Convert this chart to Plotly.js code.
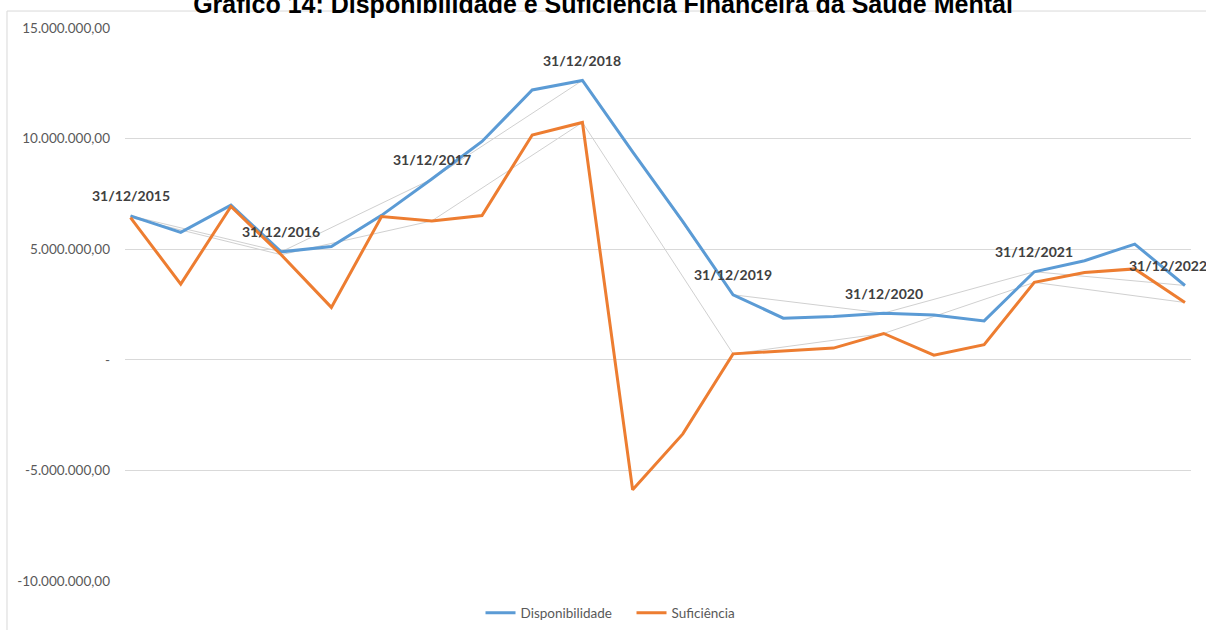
<!DOCTYPE html>
<html>
<head>
<meta charset="utf-8">
<script src="https://cdn.plot.ly/plotly-3.0.1.min.js"></script>
<style>html,body{margin:0;padding:0;background:#fff;}#chart{width:1206px;height:630px;}</style>
</head>
<body>
<div id="chart"></div>
<script>
var categories = ["31/12/2015","30/04/2016","31/08/2016","31/12/2016","30/04/2017","31/08/2017","31/12/2017","30/04/2018","31/08/2018","31/12/2018","30/04/2019","31/08/2019","31/12/2019","30/04/2020","31/08/2020","31/12/2020","30/04/2021","31/08/2021","31/12/2021","30/04/2022","31/08/2022","31/12/2022"];
var disponibilidade = [6510000,5760000,6990000,4880000,5120000,6530000,8170000,9870000,12200000,12630000,9400000,6250000,2940000,1880000,1960000,2110000,2020000,1760000,3980000,4480000,5230000,3360000];
var suficiencia = [6430000,3420000,6930000,4750000,2370000,6480000,6280000,6520000,10160000,10730000,-5880000,-3350000,270000,390000,530000,1190000,210000,680000,3500000,3950000,4110000,2590000];
var tickValues = [-10000000,-5000000,0,5000000,10000000,15000000];
var tickLabels = ["-10.000.000,00","-5.000.000,00","-","5.000.000,00","10.000.000,00","15.000.000,00"];
var seriesNames = ["Disponibilidade","Suficiência"];

var yearIdx = [];
categories.forEach(function(c,i){ if (c.indexOf("31/12") === 0) yearIdx.push(i); });
var yearCats = yearIdx.map(function(i){return categories[i];});
var yearDisp = yearIdx.map(function(i){return disponibilidade[i];});
var yearSuf = yearIdx.map(function(i){return suficiencia[i];});

var traces = [
  {x: yearCats, y: yearDisp, mode:'lines', line:{color:'#d0d0d0', width:1}, showlegend:false, hoverinfo:'skip'},
  {x: yearCats, y: yearSuf, mode:'lines', line:{color:'#d0d0d0', width:1}, showlegend:false, hoverinfo:'skip'},
  {x: categories, y: disponibilidade, name: seriesNames[0], mode:'lines', line:{color:'#5B9BD5', width:3}},
  {x: categories, y: suficiencia, name: seriesNames[1], mode:'lines', line:{color:'#ED7D31', width:3}}
];

var annotations = yearIdx.map(function(i, k){
  return {x: categories[i], y: disponibilidade[i], xref:'x', yref:'y', text: categories[i], showarrow:false,
    yshift: 20, xshift: (k === yearIdx.length-1) ? -17 : 0, yanchor:'middle', xanchor:'center',
    font:{family:'Lato, "Open Sans", sans-serif', size:14, color:'#404040', weight:'bold'}};
});

var layout = {
  width:1206, height:630,
  margin:{l:125, r:15, t:28, b:49, autoexpand:false},
  paper_bgcolor:'#ffffff', plot_bgcolor:'#ffffff',
  title:{text:'<b>Gráfico 14: Disponibilidade e Suficiência Financeira da Saúde Mental</b>', x:0.5, xref:'container', y:0.98, yref:'container', yanchor:'bottom',
    font:{family:'"Liberation Sans", Arial, sans-serif', size:25, color:'#000000'}},
  xaxis:{type:'category', categoryorder:'array', categoryarray:categories, range:[-0.11, 21.12], showticklabels:false, showgrid:false, zeroline:false, showline:false, ticks:''},
  yaxis:{range:[-10000000, 15000000], tickvals:tickValues, ticktext:tickLabels, showgrid:true, gridcolor:'#d9d9d9', gridwidth:1,
    zeroline:false, showline:false, ticks:'', ticklabelstandoff:14,
    tickfont:{family:'Lato, "Open Sans", sans-serif', size:13.5, color:'#595959'}},
  legend:{orientation:'h', x:0.3335, xanchor:'left', y:-0.058, yanchor:'middle', entrywidth:106, entrywidthmode:'pixels',
    font:{family:'Lato, "Open Sans", sans-serif', size:13.5, color:'#595959'}, itemwidth:30, tracegroupgap:0},
  annotations: annotations,
  shapes:[{type:'rect', xref:'paper', yref:'paper', x0:-0.1107, x1:1.02, y0:-0.1, y1:1.0307, line:{color:'#d9d9d9', width:1}, fillcolor:'rgba(0,0,0,0)', layer:'below'}],
  showlegend:true
};

Plotly.newPlot('chart', traces, layout, {displayModeBar:false, staticPlot:true});
</script>
</body>
</html>
